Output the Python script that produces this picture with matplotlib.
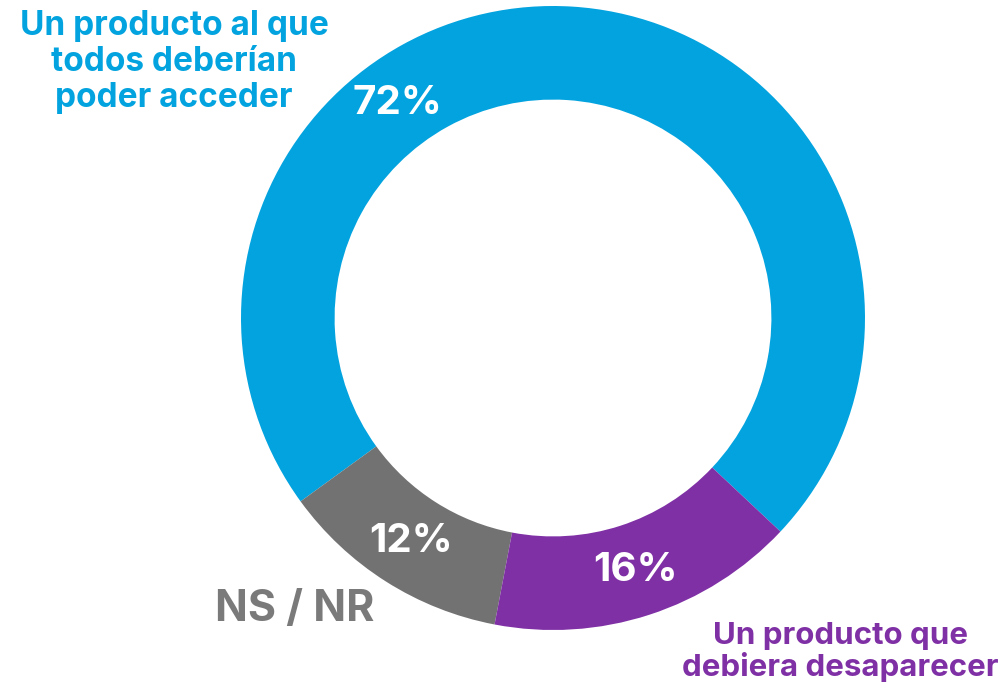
import numpy as np
import matplotlib
matplotlib.use("Agg")
import matplotlib.pyplot as plt

labels = ["Un producto al que\ntodos deberían\npoder acceder", "NS / NR", "Un producto que\ndebiera desaparecer"]
values = [72, 12, 16]
pct_labels = ["72%", "12%", "16%"]
colors = ["#03A3DF", "#717271", "#7F30A5"]
text_colors = ["#03A3DF", "#7A7A7A", "#7F30A5"]

plt.rcParams['font.family'] = ['Inter', 'DejaVu Sans']

W, H = 1005, 689
fig = plt.figure(figsize=(W / 100, H / 100), dpi=100)
cx, cy, R = 553, 318, 312
ax = fig.add_axes([(cx - R) / W, (H - cy - R) / H, 2 * R / W, 2 * R / H])

wedges, _ = ax.pie(values, colors=colors, startangle=-43.2, counterclock=True,
                   radius=1, wedgeprops=dict(width=0.30, edgecolor="none"))
ax.set_xlim(-1, 1)
ax.set_ylim(-1, 1)
ax.set_aspect("equal")
ax.axis("off")

# percent labels inside the ring
for i, w in enumerate(wedges):
    ang = (w.theta1 + w.theta2) / 2
    if i == 0:
        ang = 126  # big segment label sits near top-left
    r = 0.85
    ax.text(r * np.cos(np.radians(ang)), r * np.sin(np.radians(ang)), pct_labels[i],
            ha="center", va="center", color="white", fontsize=29, fontweight="bold")

# category labels
fig.text(174 / W, 1 - 62 / H, labels[0], ha="center", va="center", color=text_colors[0],
         fontsize=24, fontweight="bold", linespacing=1.14)
fig.text(295 / W, 1 - 610 / H, labels[1], ha="center", va="center", color=text_colors[1],
         fontsize=31, fontweight="bold")
fig.text(840 / W, 1 - 652 / H, labels[2], ha="center", va="center", color=text_colors[2],
         fontsize=22.5, fontweight="bold", linespacing=1.12)

fig.savefig("out.png", dpi=100)
